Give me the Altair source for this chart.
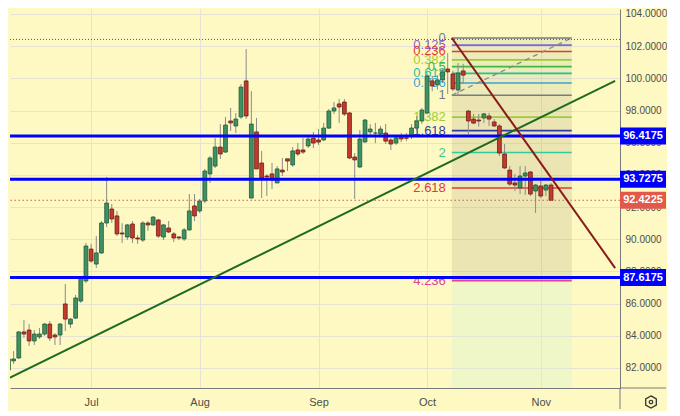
import altair as alt
import pandas as pd

# ---------------- data ----------------
opens = [81.87, 82.44, 82.62, 84.24, 84.36, 83.68, 83.93, 84.11, 84.73, 84.05,
         84.05, 85.98, 84.73, 85.10, 86.16, 87.41, 89.39, 88.46, 89.15, 91.01,
         91.88, 91.45, 90.39, 90.14, 90.95, 90.08, 89.95, 91.01, 90.89, 91.20,
         90.14, 90.70, 90.33, 90.14, 90.02, 90.58, 92.07, 91.76, 92.38, 94.06,
         94.55, 95.73, 95.42, 97.35, 97.04, 97.60, 99.84, 92.56, 96.67, 94.74,
         93.93, 94.06, 93.50, 94.30, 95.00, 94.62, 95.55, 95.55, 95.80, 96.29,
         96.17, 96.17, 96.91, 97.97, 98.41, 98.53, 97.85, 95.11, 94.49, 96.05,
         96.67, 96.60, 96.54, 96.60, 96.17, 95.98, 96.42, 96.30, 96.42, 96.91,
         97.35, 97.85, 99.84, 99.60, 99.90, 100.58, 100.27, 99.28, 100.46, 97.97,
         97.47, 97.41, 97.54, 97.66, 97.29, 97.04, 95.30, 94.30, 93.50, 93.19,
         93.93, 94.18, 93.00, 93.31, 93.06, 93.37]
highs = [82.62, 83.05, 84.30, 84.99, 84.73, 84.36, 84.49, 84.80, 84.92, 84.17,
         84.80, 87.22, 85.10, 86.54, 87.72, 89.77, 89.71, 90.20, 91.13, 93.87,
         92.19, 91.76, 91.00, 90.95, 91.13, 90.27, 91.13, 91.13, 91.45, 91.26,
         90.95, 91.13, 90.45, 90.20, 90.70, 92.81, 92.81, 92.50, 94.37, 95.17,
         96.29, 97.16, 97.60, 98.16, 97.85, 99.65, 101.82, 99.21, 97.54, 95.49,
         94.06, 94.74, 94.55, 95.05, 95.00, 95.73, 95.98, 96.29, 96.35, 96.67,
         96.85, 97.23, 98.10, 98.53, 98.72, 98.72, 97.91, 95.36, 96.79, 97.47,
         97.16, 97.23, 97.04, 97.16, 96.30, 96.42, 96.60, 96.60, 97.16, 97.66,
         98.16, 100.33, 100.15, 100.20, 100.60, 101.58, 100.46, 100.95, 100.90, 98.03,
         97.79, 97.79, 97.85, 97.85, 97.47, 97.16, 95.92, 94.55, 94.06, 94.55,
         94.55, 94.24, 93.43, 93.62, 93.43, 93.50]
lows = [81.81, 82.25, 82.56, 83.86, 83.37, 83.43, 83.80, 83.99, 83.68, 83.43,
        83.43, 84.30, 84.48, 85.04, 86.04, 87.28, 88.53, 88.21, 89.08, 90.76,
        91.01, 90.20, 89.77, 89.95, 89.77, 89.71, 89.83, 90.52, 90.83, 90.08,
        89.95, 90.39, 89.83, 89.95, 89.89, 90.52, 91.13, 91.63, 92.25, 93.50,
        94.43, 94.99, 95.36, 96.73, 96.60, 97.47, 97.47, 92.56, 94.37, 92.56,
        92.69, 93.12, 93.50, 93.93, 94.24, 94.50, 95.17, 95.30, 95.67, 95.67,
        95.86, 96.10, 96.85, 97.78, 97.23, 97.66, 94.99, 92.50, 94.43, 95.98,
        96.48, 95.98, 96.41, 95.92, 95.55, 95.86, 96.04, 96.10, 96.23, 96.73,
        97.16, 97.78, 99.20, 99.30, 99.70, 99.03, 99.21, 98.90, 99.65, 96.54,
        97.16, 97.00, 97.22, 97.04, 96.98, 95.17, 94.37, 93.31, 93.00, 92.81,
        92.75, 92.69, 91.63, 92.56, 92.69, 92.38]
closes = [82.56, 82.56, 84.24, 84.11, 83.68, 84.11, 84.11, 84.73, 83.86, 83.93,
          84.73, 85.04, 85.04, 86.35, 87.59, 89.58, 88.65, 89.15, 91.01, 92.25,
          91.26, 90.33, 90.33, 90.89, 90.08, 90.02, 91.01, 90.89, 91.38, 90.20,
          90.89, 90.45, 90.08, 90.08, 90.58, 91.76, 91.45, 92.38, 94.24, 95.05,
          95.73, 95.30, 97.10, 97.23, 97.47, 99.46, 97.66, 97.16, 94.37, 93.81,
          93.87, 93.68, 94.37, 94.18, 94.86, 95.49, 95.30, 95.42, 96.23, 95.98,
          96.04, 96.91, 97.97, 98.16, 98.22, 97.78, 95.05, 94.93, 96.23, 97.41,
          96.85, 96.60, 96.85, 96.10, 95.92, 96.30, 96.23, 96.28, 96.91, 97.35,
          98.03, 100.15, 99.53, 99.90, 100.40, 100.40, 99.34, 100.33, 100.20, 97.35,
          97.22, 97.35, 97.79, 97.47, 97.04, 95.36, 94.43, 93.43, 93.37, 93.93,
          94.12, 92.81, 93.37, 92.69, 93.37, 92.42]

months = ["Jul", "Aug", "Sep", "Oct", "Nov"]
month_idx = [16, 37, 60, 81, 103]
y_ticks = [82, 84, 86, 88, 90, 92, 94, 96, 98, 100, 102, 104]

fib_ratios = [0, 0.125, 0.236, 0.382, 0.5, 0.618, 0.786, 1, 1.382, 1.618, 2, 2.618, 4.236]
fib_labels = ["0", "0.125", "0.236", "0.382", "0.5", "0.618", "0.786", "1",
              "1.382", "1.618", "2", "2.618", "4.236"]
fib_colors = ["#787b86", "#8a63d2", "#e53935", "#9ccc3d", "#43b649", "#26bf98",
              "#3f9fd8", "#787b86", "#9ccc3d", "#2f3ca0", "#33cc99", "#e53935", "#e0409a"]
fib_p0 = 102.51
fib_p1 = 98.95
fib_start = 85.8
fib_end = 109.0

support_levels = [96.4175, 93.7275, 87.6175]
support_text = ["96.4175", "93.7275", "87.6175"]
last_price = 92.4225
last_text = "92.4225"
top_dotted = 102.42

green_i = [-0.25, 117.4]
green_v = [81.32, 99.84]
red_i = [85.8, 117.4]
red_v = [102.51, 88.21]

X_DOMAIN = [1.27, 117.37]
Y_DOMAIN = [80.756, 104.31]

BG = "#fef9c3"
FONT = "Liberation Sans"
W, H = 610, 379

# ---------------- frames ----------------
candles = pd.DataFrame({"i": list(range(len(opens))), "o": opens, "h": highs,
                        "l": lows, "c": closes})
candles["dir"] = ["up" if c >= o else "down" for o, c in zip(opens, closes)]

fib_vals = [fib_p0 - (fib_p0 - fib_p1) * r for r in fib_ratios]
fib_df = pd.DataFrame({"v": fib_vals, "lab": fib_labels, "col": fib_colors,
                       "x1": fib_start, "x2": fib_end})
zones = pd.DataFrame({
    "t": [fib_vals[0], fib_vals[7], fib_vals[-1]],
    "b": [fib_vals[7], fib_vals[-1], Y_DOMAIN[0]],
    "col": ["#80a070", "#908870", "#d4f0d0"],
    "op": [0.15, 0.18, 0.35],
    "x1": fib_start, "x2": fib_end})
diag = pd.DataFrame({"i": [fib_start, fib_end], "v": [fib_p1, fib_p0]})

supp = pd.DataFrame({"v": support_levels, "t": support_text})
last_df = pd.DataFrame({"v": [last_price], "t": [last_text]})
top_df = pd.DataFrame({"v": [top_dotted]})
green_df = pd.DataFrame({"i": green_i, "v": green_v})
red_df = pd.DataFrame({"i": red_i, "v": red_v})
one = pd.DataFrame({"a": [0]})

xs = alt.Scale(domain=X_DOMAIN, nice=False, zero=False)
ys = alt.Scale(domain=Y_DOMAIN, nice=False, zero=False)

label_expr = " : ".join(
    [f"datum.value == {m} ? '{n}'" for m, n in zip(month_idx, months)]) + " : ''"

x_axis = alt.Axis(values=month_idx, labelExpr=label_expr, grid=True, ticks=False,
                  tickSize=0, labelPadding=8, domain=True, domainColor="#7a7a7a",
                  gridColor="#e6e3d6", labelColor="#4d4d4d", labelFont=FONT,
                  labelFontSize=11, title=None, labelBaseline="top",
                  labelOverlap=False)
y_axis = alt.Axis(orient="right", values=y_ticks, format=".4f", grid=True, ticks=False,
                  tickSize=0, labelPadding=5, domain=True, domainColor="#7a7a7a",
                  gridColor="#e6e3d6", labelColor="#4d4d4d", labelFont=FONT,
                  labelFontSize=10, title=None, labelOverlap=False,
                  labelBound=False, labelFlush=False)


def X(f):
    return alt.X(f, type="quantitative", scale=xs, axis=x_axis)


def Y(f):
    return alt.Y(f, type="quantitative", scale=ys, axis=y_axis)


zone_layer = alt.Chart(zones).mark_rect(clip=True).encode(
    x=X("x1"), x2="x2", y=Y("t"), y2="b",
    color=alt.Color("col:N", scale=None), opacity=alt.Opacity("op:Q", scale=None))

fib_lines = alt.Chart(fib_df).mark_rule(strokeWidth=1.6, clip=True).encode(
    x=X("x1"), x2="x2", y=Y("v"), color=alt.Color("col:N", scale=None))

fib_text = alt.Chart(fib_df).mark_text(align="right", baseline="middle", dx=-6,
                                       fontSize=13, font=FONT).encode(
    x=X("x1"), y=Y("v"), text="lab:N", color=alt.Color("col:N", scale=None))

diag_line = alt.Chart(diag).mark_line(color="#8a8a8a", strokeWidth=1.3,
                                      strokeDash=[5, 4], clip=True).encode(
    x=X("i"), y=Y("v"))

top_line = alt.Chart(top_df).mark_rule(color="#555555", strokeWidth=1,
                                       strokeDash=[1, 2]).encode(y=Y("v"))
last_line = alt.Chart(last_df).mark_rule(color="#e2584a", strokeWidth=1,
                                         strokeDash=[1.5, 2.5]).encode(y=Y("v"))

wicks = alt.Chart(candles).mark_rule(color="#8a8a8a", strokeWidth=1, clip=True).encode(
    x=X("i"), y=Y("l"), y2="h")

bodies = alt.Chart(candles).mark_bar(width=3.8, strokeWidth=0.8, clip=True).encode(
    x=X("i"), y=Y("o"), y2="c",
    color=alt.Color("dir:N", scale=alt.Scale(domain=["up", "down"],
                                             range=["#3f9164", "#c23a2c"]), legend=None),
    stroke=alt.Stroke("dir:N", scale=alt.Scale(domain=["up", "down"],
                                               range=["#1d5a37", "#6e1c15"]), legend=None))

supp_lines = alt.Chart(supp).mark_rule(color="#0000ff", strokeWidth=3).encode(y=Y("v"))

green_line = alt.Chart(green_df).mark_line(color="#1f6b22", strokeWidth=2, clip=True).encode(
    x=X("i"), y=Y("v"))
red_line = alt.Chart(red_df).mark_line(color="#8b1a1a", strokeWidth=2, clip=True).encode(
    x=X("i"), y=Y("v"))

BOX = "M-1,-0.37L1,-0.37L1,0.37L-1,0.37Z"
BOX_X = W + 23
BOX_SIZE = 46 * 46
supp_box = alt.Chart(supp).mark_point(shape=BOX, size=BOX_SIZE, filled=True, opacity=1,
                                      color="#0000ff").encode(
    x=alt.value(BOX_X), y=Y("v"))
supp_txt = alt.Chart(supp).mark_text(color="white", fontWeight="bold", fontSize=11,
                                     font=FONT, align="center", baseline="middle").encode(
    x=alt.value(BOX_X), y=Y("v"), text="t:N")
last_box = alt.Chart(last_df).mark_point(shape=BOX, size=BOX_SIZE, filled=True, opacity=1,
                                         color="#e2584a").encode(
    x=alt.value(BOX_X), y=Y("v"))
last_txt = alt.Chart(last_df).mark_text(color="white", fontWeight="bold", fontSize=11,
                                        font=FONT, align="center", baseline="middle").encode(
    x=alt.value(BOX_X), y=Y("v"), text="t:N")

vline = alt.Chart(one).mark_rule(color="#7a7a7a", strokeWidth=1).encode(
    x=alt.value(W), y=alt.value(H), y2=alt.value(400))
hline = alt.Chart(one).mark_rule(color="#7a7a7a", strokeWidth=1).encode(
    x=alt.value(W), x2=alt.value(W + 46), y=alt.value(H))

HEX = "M0,-1L0.866,-0.5L0.866,0.5L0,1L-0.866,0.5L-0.866,-0.5Z"
icon = alt.Chart(one).mark_point(shape=HEX, size=150, filled=False, color="#333333",
                                 strokeWidth=1.3, opacity=1).encode(
    x=alt.value(W + 31), y=alt.value(H + 14))
icon_dot = alt.Chart(one).mark_point(shape="circle", size=12, filled=False,
                                     color="#333333", strokeWidth=1.2, opacity=1).encode(
    x=alt.value(W + 31), y=alt.value(H + 14))

chart = alt.layer(
    zone_layer, fib_lines, fib_text, diag_line, top_line, wicks, bodies,
    supp_lines, last_line, green_line, red_line,
    supp_box, supp_txt, last_box, last_txt, vline, hline, icon, icon_dot
).properties(
    width=W, height=H, padding=0, background=BG
).configure_view(strokeWidth=0, fill=BG).configure_axis(labelOverlap=False)

chart.save("out.html", embed_options={"renderer": "svg", "actions": False})
